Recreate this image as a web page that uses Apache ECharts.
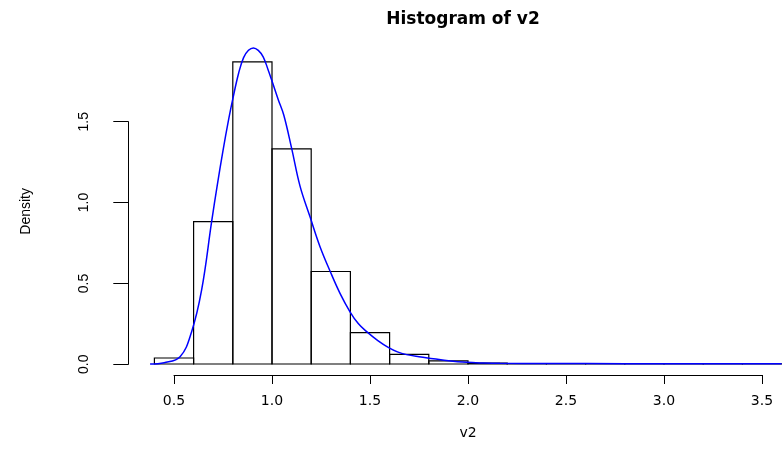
<!DOCTYPE html>
<html>
<head>
<meta charset="utf-8">
<script src="https://cdn.jsdelivr.net/npm/echarts@6/dist/echarts.min.js"></script>
<style>
html,body{margin:0;padding:0;background:#fff;}
#chart{width:782px;height:449px;}
</style>
</head>
<body>
<div id="chart"></div>
<script>
// Histogram breaks and densities
const breaks = [0.4, 0.6, 0.8, 1.0, 1.2, 1.4, 1.6, 1.8, 2.0, 2.2, 2.4, 2.6, 2.8, 3.0, 3.2, 3.4, 3.6];
const densities = [0.037, 0.88, 1.868, 1.331, 0.572, 0.194, 0.06, 0.019, 0.005, 0.003, 0.002, 0.001, 0.001, 0.0005, 0.0005, 0.0005];

// Kernel density curve points (x, density)
const kdeX = [0.378, 0.45, 0.531, 0.59, 0.641, 0.692, 0.72, 0.75, 0.78, 0.80, 0.83, 0.855, 0.88, 0.905, 0.93, 0.955, 0.98, 1.0, 1.032, 1.06, 1.10, 1.143, 1.194, 1.245, 1.296, 1.347, 1.398, 1.44, 1.483, 1.54, 1.593, 1.64, 1.687, 1.75, 1.823, 1.9, 1.993, 2.08, 2.163, 2.4, 2.8, 3.2, 3.6];
const kdeY = [0.0, 0.008, 0.045, 0.2, 0.458, 0.88, 1.10, 1.32, 1.52, 1.64, 1.80, 1.895, 1.94, 1.955, 1.94, 1.90, 1.82, 1.75, 1.635, 1.54, 1.335, 1.10, 0.91, 0.725, 0.575, 0.437, 0.323, 0.25, 0.2, 0.145, 0.103, 0.075, 0.058, 0.045, 0.033, 0.02, 0.01, 0.006, 0.004, 0.003, 0.002, 0.002, 0.002];

const xTicks = [0.5, 1.0, 1.5, 2.0, 2.5, 3.0, 3.5];
const yTicks = [0.0, 0.5, 1.0, 1.5];

const bins = densities.map((d, i) => [breaks[i], breaks[i + 1], d]);
const kde = kdeX.map((x, i) => [x, kdeY[i]]);

const chart = echarts.init(document.getElementById('chart'), null, {renderer: 'canvas'});

const option = {
  backgroundColor: '#ffffff',
  animation: false,
  title: {
    text: 'Histogram of v2',
    left: 458,
    top: 6,
    textAlign: 'center',
    textStyle: {fontFamily: 'DejaVu Sans', fontWeight: 'bold', fontSize: 17, color: '#000'}
  },
  grid: [
    {left: 144.6, width: 637, top: 36.1, height: 340.5},   // data area
    {left: 174, width: 588, top: 374, height: 1},           // x axis line
    {left: 128.3, width: 1, top: 121.7, height: 242.6}      // y axis line
  ],
  xAxis: [
    {
      gridIndex: 0, type: 'value', min: 0.35, max: 3.6,
      axisLine: {show: false, onZero: false}, axisTick: {show: false},
      axisLabel: {show: false}, splitLine: {show: false}
    },
    {
      gridIndex: 1, type: 'value', min: 0.5, max: 3.5, interval: 0.5,
      position: 'bottom',
      name: 'v2', nameLocation: 'middle', nameGap: 51,
      nameTextStyle: {fontFamily: 'DejaVu Sans', fontSize: 14, color: '#000'},
      axisLine: {show: true, onZero: false, lineStyle: {color: '#000', width: 1}},
      axisTick: {show: true, length: 9, lineStyle: {color: '#000', width: 1}},
      axisLabel: {
        margin: 19, fontFamily: 'DejaVu Sans', fontSize: 14, color: '#000',
        formatter: v => v.toFixed(1)
      },
      splitLine: {show: false}
    },
    {
      gridIndex: 2, type: 'value', show: false
    }
  ],
  yAxis: [
    {
      gridIndex: 0, type: 'value', min: -0.078, max: 2.028,
      name: 'Density', nameLocation: 'middle', nameGap: 111, nameRotate: 90,
      nameTextStyle: {fontFamily: 'Liberation Sans', fontSize: 14, color: '#000', padding: [0, 10, 0, 0]},
      axisLine: {show: false, onZero: false}, axisTick: {show: false},
      axisLabel: {show: false}, splitLine: {show: false}
    },
    {
      gridIndex: 1, type: 'value', show: false
    },
    {
      gridIndex: 2, type: 'value', min: 0, max: 1.5, interval: 0.5,
      position: 'left',
      axisLine: {show: true, onZero: false, lineStyle: {color: '#000', width: 1}},
      axisTick: {show: true, length: 15, lineStyle: {color: '#000', width: 1}},
      axisLabel: {
        rotate: 90, margin: 37, fontFamily: 'Liberation Sans', fontSize: 14, color: '#000',
        formatter: v => v.toFixed(1)
      },
      splitLine: {show: false}
    }
  ],
  series: [
    {
      type: 'custom',
      xAxisIndex: 0, yAxisIndex: 0,
      clip: true,
      data: bins,
      renderItem: function (params, api) {
        const p0 = api.coord([api.value(0), api.value(2)]);
        const p1 = api.coord([api.value(1), 0]);
        return {
          type: 'rect',
          shape: {x: p0[0], y: p0[1], width: p1[0] - p0[0], height: p1[1] - p0[1]},
          style: {fill: 'rgba(0,0,0,0)', stroke: '#000', lineWidth: 1.2}
        };
      },
      silent: true
    },
    {
      type: 'line',
      xAxisIndex: 0, yAxisIndex: 0,
      data: kde,
      smooth: 0.4,
      showSymbol: false,
      symbol: 'none',
      lineStyle: {color: '#0000ff', width: 1.5},
      clip: true,
      silent: true,
      z: 5
    }
  ]
};
chart.setOption(option);
</script>
</body>
</html>
